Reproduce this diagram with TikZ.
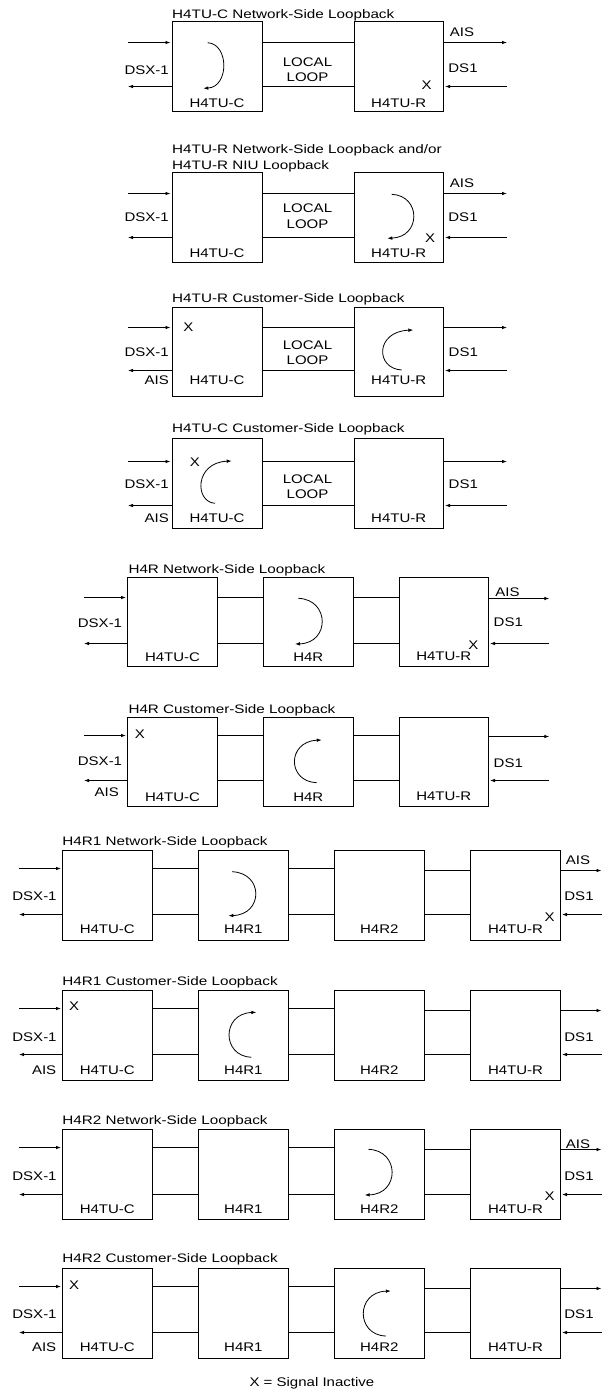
\documentclass[tikz,border=0pt]{standalone}
\usepackage{fontspec}
\setmainfont{Liberation Sans}[FakeStretch=1.2]
\newfontfamily\ttlfont{Liberation Sans}[FakeStretch=1.24]
\usetikzlibrary{arrows.meta}
\tikzset{
  ubox/.style={draw, line width=1pt, inner sep=0pt, outer sep=0pt},
  wire/.style={line width=1pt},
  sig/.style={line width=0.9pt, -{Latex[length=5pt,width=3.6pt]}},
  lpar/.style={line width=0.8pt, -{Latex[length=5pt,width=3.6pt]}},
  lbl/.style={inner sep=0pt, font=\fontsize{12.5}{14}\selectfont},
  ttl/.style={inner sep=0pt, anchor=base west, font=\ttlfont\fontsize{12.3}{14}\selectfont},
}
\newcommand\ubx[5]{\node[ubox,minimum width={(#4-#2)*1pt},minimum height={(#5-#3)*1pt}] (#1) at ({(#2+#4)/2},{(#3+#5)/2}) {};}
\newcommand\lnk[3]{\draw[wire] (#1.east |- 0,#3) -- (#2.west |- 0,#3);}
\newcommand\leftio[5]{\coordinate (#1li) at (#3,#4); \coordinate (#1lo) at (#3,#5);
  \draw[sig,shorten >=1.5pt] (#1li) -- (#2.west |- #1li);
  \draw[sig] (#2.west |- #1lo) -- (#1lo);}
\newcommand\rightio[5]{\coordinate (#1ro) at (#3,#4); \coordinate (#1ri) at (#3,#5);
  \draw[sig] (#2.east |- #1ro) -- (#1ro);
  \draw[sig,shorten >=1.5pt] (#1ri) -- (#2.east |- #1ri);}
\newcommand\lp[7]{\draw[lpar] (#1,#2) .. controls (#5,#6) and (#5,#7) .. (#3,#4);}
\begin{document}
\begin{tikzpicture}[x=1pt,y=-1pt]
\useasboundingbox (0,0) rectangle (602,1395);
% ---------- Panel 1
\ubx{p1a}{172}{21.5}{262}{111}
\ubx{p1b}{354}{21.5}{443.5}{111}
\lnk{p1a}{p1b}{42.5} \lnk{p1a}{p1b}{86.5}
\leftio{p1}{p1a}{128}{42.5}{86.5}
\rightio{p1}{p1b}{507}{42.5}{86.5}
\node[ttl] (p1t) at (172,18.3) {H4TU-C Network-Side Loopback};
\node[lbl] (p1dsx) at (146.7,70.5) {DSX-1};
\node[lbl] (p1ais) at (462,32.5) {AIS};
\node[lbl] (p1ds1) at (463,68) {DS1};
\node[lbl] (p1x) at (426.7,85) {X};
\node[lbl] (p1loc) at (307.5,62) {LOCAL};
\node[lbl] (p1lop) at (307.5,77) {LOOP};
\node[lbl] (p1al) at (217,103) {H4TU-C};
\node[lbl] (p1bl) at (398.7,103) {H4TU-R};
\lp{207.7}{42.7}{203.3}{88.3}{229.2}{44}{87}
% ---------- Panel 2
\ubx{p2a}{172}{172.5}{262}{262}
\ubx{p2b}{354}{172.5}{443.5}{262}
\lnk{p2a}{p2b}{193.5} \lnk{p2a}{p2b}{237.5}
\leftio{p2}{p2a}{128}{193.5}{237.5}
\rightio{p2}{p2b}{507}{193.5}{237.5}
\node[ttl] (p2t) at (172,153.3) {H4TU-R Network-Side Loopback and/or};
\node[ttl] (p2t2) at (172,169.3) {H4TU-R NIU Loopback};
\node[lbl] (p2dsx) at (146.7,217.3) {DSX-1};
\node[lbl] (p2ais) at (462,183.3) {AIS};
\node[lbl] (p2ds1) at (463,217.3) {DS1};
\node[lbl] (p2x) at (430,237.7) {X};
\node[lbl] (p2loc) at (307.5,208.3) {LOCAL};
\node[lbl] (p2lop) at (307.5,224.3) {LOOP};
\node[lbl] (p2al) at (217,253.3) {H4TU-C};
\node[lbl] (p2bl) at (398.7,253.3) {H4TU-R};
\lp{391.7}{194.3}{387.3}{238.3}{421.2}{195.5}{237}
% ---------- Panel 3
\ubx{p3a}{172}{307.5}{262}{396.5}
\ubx{p3b}{354}{307.5}{443.5}{396.5}
\lnk{p3a}{p3b}{327.5} \lnk{p3a}{p3b}{370.5}
\leftio{p3}{p3a}{128}{327.5}{370.5}
\rightio{p3}{p3b}{507}{327.5}{370.5}
\node[ttl] (p3t) at (172,302.7) {H4TU-R Customer-Side Loopback};
\node[lbl] (p3x) at (188.3,326.7) {X};
\node[lbl] (p3dsx) at (146.7,351.7) {DSX-1};
\node[lbl] (p3ais) at (156.7,380) {AIS};
\node[lbl] (p3ds1) at (463.3,351.7) {DS1};
\node[lbl] (p3loc) at (307.5,345) {LOCAL};
\node[lbl] (p3lop) at (307.5,360) {LOOP};
\node[lbl] (p3al) at (217,380) {H4TU-C};
\node[lbl] (p3bl) at (398.7,380) {H4TU-R};
\lp{401.7}{370}{413.3}{330}{375.2}{368.5}{331.5}
% ---------- Panel 4
\ubx{p4a}{172}{438.5}{262}{528.5}
\ubx{p4b}{354}{438.5}{443.5}{528.5}
\lnk{p4a}{p4b}{461.5} \lnk{p4a}{p4b}{505.5}
\leftio{p4}{p4a}{128}{461.5}{505.5}
\rightio{p4}{p4b}{507}{461.5}{505.5}
\node[ttl] (p4t) at (172,432.7) {H4TU-C Customer-Side Loopback};
\node[lbl] (p4x) at (195,461.7) {X};
\node[lbl] (p4dsx) at (146.7,484) {DSX-1};
\node[lbl] (p4ais) at (156.7,518.3) {AIS};
\node[lbl] (p4ds1) at (463.3,484) {DS1};
\node[lbl] (p4loc) at (307.5,479) {LOCAL};
\node[lbl] (p4lop) at (307.5,494) {LOOP};
\node[lbl] (p4al) at (217,518.3) {H4TU-C};
\node[lbl] (p4bl) at (398.7,518.3) {H4TU-R};
\lp{215}{503.3}{231.7}{461}{194.5}{502}{462.5}
% ---------- Panel 5
\ubx{p5a}{127.5}{577.5}{217.5}{666.5}
\ubx{p5b}{263.5}{577.5}{353.5}{666.5}
\ubx{p5c}{399.5}{577.5}{488.5}{666.5}
\lnk{p5a}{p5b}{597.5} \lnk{p5a}{p5b}{643.5}
\lnk{p5b}{p5c}{597.5} \lnk{p5b}{p5c}{643.5}
\leftio{p5}{p5a}{84}{597.5}{643.5}
\rightio{p5}{p5c}{549.3}{598.5}{643.5}
\node[ttl] (p5t) at (128.3,573.3) {H4R Network-Side Loopback};
\node[lbl] (p5dsx) at (100,622.7) {DSX-1};
\node[lbl] (p5ais) at (507.5,591.7) {AIS};
\node[lbl] (p5ds1) at (508.3,621.7) {DS1};
\node[lbl] (p5x) at (473.3,645) {X};
\node[lbl] (p5al) at (172.5,656.7) {H4TU-C};
\node[lbl] (p5bl) at (308.3,656.7) {H4R};
\node[lbl] (p5cl) at (443.8,656.7) {H4TU-R};
\lp{298.3}{598.3}{295}{644}{330}{599.5}{643}
% ---------- Panel 6
\ubx{p6a}{127.5}{717.5}{217.5}{806.5}
\ubx{p6b}{263.5}{717.5}{353.5}{806.5}
\ubx{p6c}{399.5}{717.5}{488.5}{806.5}
\lnk{p6a}{p6b}{735.5} \lnk{p6a}{p6b}{780.5}
\lnk{p6b}{p6c}{735.5} \lnk{p6b}{p6c}{780.5}
\leftio{p6}{p6a}{84}{735.5}{780.5}
\rightio{p6}{p6c}{549.3}{736.5}{780.5}
\node[ttl] (p6t) at (128.3,713.3) {H4R Customer-Side Loopback};
\node[lbl] (p6x) at (140,734) {X};
\node[lbl] (p6dsx) at (100,760.7) {DSX-1};
\node[lbl] (p6ais) at (106.7,791.7) {AIS};
\node[lbl] (p6ds1) at (508.3,762.7) {DS1};
\node[lbl] (p6al) at (172.5,796.7) {H4TU-C};
\node[lbl] (p6bl) at (308.3,796.7) {H4R};
\node[lbl] (p6cl) at (443.8,796.7) {H4TU-R};
\lp{316.7}{782.7}{321.7}{740}{286.9}{781.5}{741.5}
% ---------- Panel 7
\ubx{p7a}{62.5}{850.5}{152.5}{940.5}
\ubx{p7b}{198.5}{850.5}{288.5}{940.5}
\ubx{p7c}{334.5}{850.5}{424.5}{940.5}
\ubx{p7d}{470.5}{850.5}{560.5}{940.5}
\lnk{p7a}{p7b}{868.5} \lnk{p7a}{p7b}{914.5}
\lnk{p7b}{p7c}{868.5} \lnk{p7b}{p7c}{914.5}
\lnk{p7c}{p7d}{870.5} \lnk{p7c}{p7d}{914.5}
\leftio{p7}{p7a}{19}{868.5}{914.5}
\rightio{p7}{p7d}{601.5}{870.5}{914.5}
\node[ttl] (p7t) at (62.2,845.7) {H4R1 Network-Side Loopback};
\node[lbl] (p7dsx) at (34.5,895.7) {DSX-1};
\node[lbl] (p7ais) at (578,860) {AIS};
\node[lbl] (p7ds1) at (579,895.7) {DS1};
\node[lbl] (p7x) at (549.7,916.7) {X};
\node[lbl] (p7al) at (107.3,929.3) {H4TU-C};
\node[lbl] (p7bl) at (243.4,929.3) {H4R1};
\node[lbl] (p7cl) at (379.3,929.3) {H4R2};
\node[lbl] (p7dl) at (515.5,929.3) {H4TU-R};
\lp{232.2}{871.7}{228.4}{915.7}{263.6}{873}{914.5}
% ---------- Panel 8
\ubx{p8a}{62.5}{990.5}{152.5}{1080.5}
\ubx{p8b}{198.5}{990.5}{288.5}{1080.5}
\ubx{p8c}{334.5}{990.5}{424.5}{1080.5}
\ubx{p8d}{470.5}{990.5}{560.5}{1080.5}
\lnk{p8a}{p8b}{1008.5} \lnk{p8a}{p8b}{1054.5}
\lnk{p8b}{p8c}{1008.5} \lnk{p8b}{p8c}{1054.5}
\lnk{p8c}{p8d}{1010.5} \lnk{p8c}{p8d}{1054.5}
\leftio{p8}{p8a}{19}{1008.5}{1054.5}
\rightio{p8}{p8d}{601.5}{1010.5}{1054.5}
\node[ttl] (p8t) at (62.2,985) {H4R1 Customer-Side Loopback};
\node[lbl] (p8x) at (74.1,1006) {X};
\node[lbl] (p8dsx) at (34.5,1036.7) {DSX-1};
\node[lbl] (p8ais) at (44.1,1070) {AIS};
\node[lbl] (p8ds1) at (579,1036.7) {DS1};
\node[lbl] (p8al) at (107.3,1070) {H4TU-C};
\node[lbl] (p8bl) at (243.4,1070) {H4R1};
\node[lbl] (p8cl) at (379.3,1070) {H4R2};
\node[lbl] (p8dl) at (515.5,1070) {H4TU-R};
\lp{251.4}{1057.3}{256.4}{1012.3}{221.5}{1056}{1013.5}
% ---------- Panel 9
\ubx{p9a}{62.5}{1129.5}{152.5}{1219.5}
\ubx{p9b}{198.5}{1129.5}{288.5}{1219.5}
\ubx{p9c}{334.5}{1129.5}{424.5}{1219.5}
\ubx{p9d}{470.5}{1129.5}{560.5}{1219.5}
\lnk{p9a}{p9b}{1147.5} \lnk{p9a}{p9b}{1194.5}
\lnk{p9b}{p9c}{1147.5} \lnk{p9b}{p9c}{1194.5}
\lnk{p9c}{p9d}{1149.5} \lnk{p9c}{p9d}{1194.5}
\leftio{p9}{p9a}{19}{1147.5}{1194.5}
\rightio{p9}{p9d}{601.5}{1149.5}{1194.5}
\node[ttl] (p9t) at (62.2,1124.3) {H4R2 Network-Side Loopback};
\node[lbl] (p9dsx) at (34.5,1175.7) {DSX-1};
\node[lbl] (p9ais) at (578,1144.3) {AIS};
\node[lbl] (p9ds1) at (579,1175.7) {DS1};
\node[lbl] (p9x) at (549.7,1195.7) {X};
\node[lbl] (p9al) at (107.3,1209.3) {H4TU-C};
\node[lbl] (p9bl) at (243.4,1209.3) {H4R1};
\node[lbl] (p9cl) at (379.3,1209.3) {H4R2};
\node[lbl] (p9dl) at (515.5,1209.3) {H4TU-R};
\lp{368.5}{1149.3}{364.7}{1195}{399.9}{1150.5}{1194}
% ---------- Panel 10
\ubx{p10a}{62.5}{1268.5}{152.5}{1358.5}
\ubx{p10b}{198.5}{1268.5}{288.5}{1358.5}
\ubx{p10c}{334.5}{1268.5}{424.5}{1358.5}
\ubx{p10d}{470.5}{1268.5}{560.5}{1358.5}
\lnk{p10a}{p10b}{1286.5} \lnk{p10a}{p10b}{1332.5}
\lnk{p10b}{p10c}{1286.5} \lnk{p10b}{p10c}{1332.5}
\lnk{p10c}{p10d}{1288.5} \lnk{p10c}{p10d}{1332.5}
\leftio{p10}{p10a}{19}{1286.5}{1332.5}
\rightio{p10}{p10d}{601.5}{1288.5}{1332.5}
\node[ttl] (p10t) at (62.2,1262.3) {H4R2 Customer-Side Loopback};
\node[lbl] (p10x) at (74.1,1285) {X};
\node[lbl] (p10dsx) at (34.5,1314.3) {DSX-1};
\node[lbl] (p10ais) at (44.1,1347.3) {AIS};
\node[lbl] (p10ds1) at (579,1314.3) {DS1};
\node[lbl] (p10al) at (107.3,1347.3) {H4TU-C};
\node[lbl] (p10bl) at (243.4,1347.3) {H4R1};
\node[lbl] (p10cl) at (379.3,1347.3) {H4R2};
\node[lbl] (p10dl) at (515.5,1347.3) {H4TU-R};
\lp{385.8}{1336}{390.8}{1291}{355.7}{1335}{1292}
% legend
\node[lbl] (legend) at (311.9,1383) {X = Signal Inactive};
\end{tikzpicture}
\end{document}
